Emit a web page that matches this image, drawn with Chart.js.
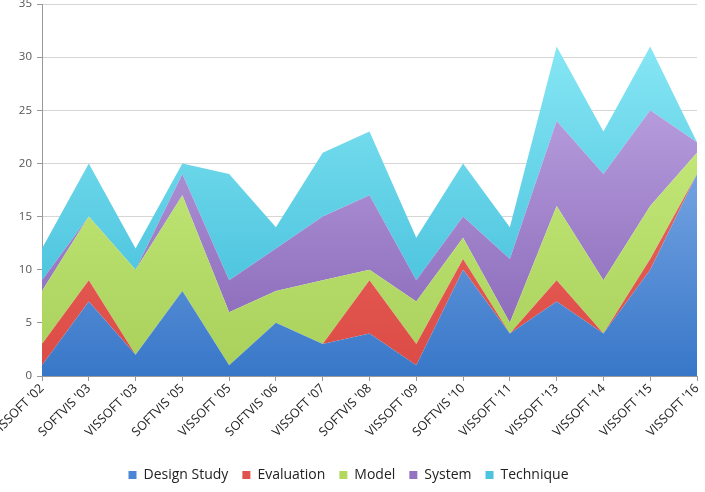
<!DOCTYPE html>
<html>
<head>
<meta charset="utf-8">
<script src="https://cdn.jsdelivr.net/npm/chart.js@4/dist/chart.umd.min.js"></script>
<style>
  html, body { margin: 0; padding: 0; background: #fff; }
  #wrap { width: 705px; height: 492px; position: relative; }
</style>
</head>
<body>
<div id="wrap"><canvas id="areaChart"></canvas></div>
<script>
// venues (x axis)
const venues = ["VISSOFT '02", "SOFTVIS '03", "VISSOFT '03", "SOFTVIS '05", "VISSOFT '05",
    "SOFTVIS '06", "VISSOFT '07", "SOFTVIS '08", "VISSOFT '09", "SOFTVIS '10",
    "VISSOFT '11", "VISSOFT '13", "VISSOFT '14", "VISSOFT '15", "VISSOFT '16"];

// paper counts per category
const designStudy = [1, 7, 2, 8, 1, 5, 3, 4, 1, 10, 4, 7, 4, 10, 19];
const evaluation  = [2, 2, 0, 0, 0, 0, 0, 5, 2, 1, 0, 2, 0, 1, 0];
const model       = [5, 6, 8, 9, 5, 3, 6, 1, 4, 2, 1, 7, 5, 5, 2];
const system      = [1, 0, 0, 2, 3, 4, 6, 7, 2, 2, 6, 8, 10, 9, 1];
const technique   = [3, 5, 2, 1, 10, 2, 6, 6, 4, 5, 3, 7, 4, 6, 0];

const yTicks = [0, 5, 10, 15, 20, 25, 30, 35];

const fontFamily = "'Open Sans', 'Liberation Sans', sans-serif";

// vertical gradient over the chart area
function grad(top, bottom) {
    return function(context) {
        const chart = context.chart;
        const area = chart.chartArea;
        if (!area) return bottom;
        const g = chart.ctx.createLinearGradient(0, area.top, 0, area.bottom);
        g.addColorStop(0, top);
        g.addColorStop(1, bottom);
        return g;
    };
}

function series(label, data, top, bottom, legendColor, fill) {
    return {
        label: label,
        data: data,
        fill: fill,
        backgroundColor: grad(top, bottom),
        borderWidth: 0,
        borderColor: 'rgba(0,0,0,0)',
        pointRadius: 0,
        pointHoverRadius: 0,
        tension: 0,
        legendColor: legendColor
    };
}

const ctx = document.getElementById('areaChart').getContext('2d');

new Chart(ctx, {
    type: 'line',
    data: {
        labels: venues,
        datasets: [
            series('Design Study', designStudy, '#a4c6f7', '#3877c8', '#4a85d6', 'origin'),
            series('Evaluation', evaluation, '#f07a70', '#dc4a44', '#e0524c', '-1'),
            series('Model', model, '#d2f58a', '#a8d05a', '#b2d95e', '-1'),
            series('System', system, '#c9b2ec', '#8462b4', '#9474c2', '-1'),
            series('Technique', technique, '#90ecf8', '#38b8d6', '#4cc4e0', '-1')
        ]
    },
    options: {
        responsive: true,
        maintainAspectRatio: false,
        animation: false,
        layout: {
            padding: { top: 0, right: 8, bottom: 0, left: 0 }
        },
        plugins: {
            legend: {
                position: 'bottom',
                labels: {
                    boxWidth: 8,
                    boxHeight: 8,
                    padding: 14,
                    color: '#222',
                    font: { size: 14, family: fontFamily },
                    generateLabels: function(chart) {
                        return chart.data.datasets.map((ds, i) => ({
                            text: ds.label,
                            fillStyle: ds.legendColor,
                            strokeStyle: ds.legendColor,
                            lineWidth: 0,
                            hidden: false,
                            datasetIndex: i,
                            fontColor: '#222'
                        }));
                    }
                }
            },
            tooltip: { enabled: false }
        },
        scales: {
            x: {
                offset: false,
                grid: {
                    drawOnChartArea: false,
                    drawTicks: true,
                    tickLength: 5,
                    color: '#999'
                },
                border: { color: '#999' },
                ticks: {
                    autoSkip: false,
                    maxRotation: 45,
                    minRotation: 45,
                    color: '#222',
                    padding: 0,
                    font: { size: 12.5, family: fontFamily }
                },
                afterFit: function(scale) {
                    scale.paddingLeft = 0;
                    scale.paddingRight = 0;
                    scale.height = 78;
                }
            },
            y: {
                stacked: true,
                min: 0,
                max: 35,
                afterBuildTicks: function(scale) {
                    scale.ticks = yTicks.map(v => ({ value: v }));
                },
                grid: {
                    color: '#d6d6d6',
                    tickLength: 5,
                    tickColor: '#999'
                },
                border: { color: '#999' },
                ticks: {
                    color: '#555',
                    padding: 5,
                    font: { size: 11.5, family: fontFamily }
                },
                afterFit: function(scale) {
                    scale.width = 42;
                    scale.paddingTop = 4;
                }
            }
        }
    }
});
</script>
</body>
</html>
